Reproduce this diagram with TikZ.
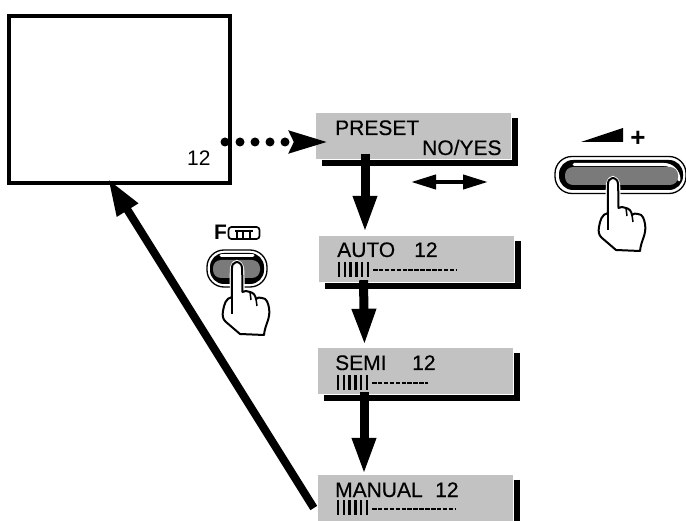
\documentclass[tikz,border=0pt]{standalone}
\usepackage{fontspec}
\setmainfont{Liberation Sans}
\usetikzlibrary{arrows.meta,calc}
\tikzset{
  panel/.style={fill=black!24,inner sep=0pt,minimum width=195pt,minimum height=46pt},
  paneltxt/.style={anchor=base west,inner sep=0pt,font=\fontsize{21}{24}\selectfont\addfontfeature{FakeBold=0.35}},
  edgeline/.style={line width=6pt,line join=miter},
  bigarrow/.style={line width=9pt,-{Triangle[length=37pt,width=22pt]}},
  btnout/.style={draw,line width=1.3pt,fill=white,rounded corners=17pt,inner sep=0pt},
  btnring/.style={fill=black,rounded corners=14pt,inner sep=0pt},
  btngray/.style={fill=black!52,rounded corners=8pt,inner sep=0pt},
  hand/.pic={
    \filldraw[fill=white,draw=white,line width=4pt] plot[smooth,tension=.5] coordinates {(-5,35) (-5,6) (0,0) (5,6) (5.5,30)} -- (20,60) -- cycle;
    \filldraw[fill=white,draw=black,line width=2pt,line join=round] plot[smooth,tension=.45] coordinates {(-5,35) (-5,6) (-3,1.5) (0,0) (3,1.5) (5,6) (5.5,30)}
      to[out=50,in=170] (13,30) to[out=-10,in=100] (19,37) to[out=60,in=170] (25,36) to[out=0,in=100] (32,46)
      to[out=-80,in=85] (27,73) -- (3,72) -- (-11,60) to[out=140,in=-100] (-14,49) to[out=80,in=190] (-5,35);
    \draw[line width=1.5pt] (-5,35) -- (-5,52);
    \draw[line width=1.5pt] (13,30) -- (14,38);
    \draw[line width=1.5pt] (19,37) -- (20,44);
  }
}
\begin{document}
\begin{tikzpicture}[x=1pt,y=-1pt]
\useasboundingbox (0,0) rectangle (686,521);
% monitor
\node[draw,line width=3.5pt,inner sep=0pt,minimum width=221pt,minimum height=167pt] (monitor) at (119.5,99.5) {};
\node[anchor=base west,inner sep=0pt,font=\fontsize{21}{24}\selectfont] (montxt) at (187,166) {12};
% menu panels
\node[panel] (preset) at (413.5,136.5) {};
\node[panel] (auto) at (416.5,259) {};
\node[panel] (semi) at (415.5,371) {};
\node[panel] (manual) at (415.5,498) {};
\node[paneltxt] (presettxt) at (335,135) {PRESET};
\node[paneltxt] (noyes) at (422,155) {NO/YES};
\node[paneltxt] (autotxt) at (337,257) {AUTO};
\node[paneltxt] (autonum) at (414,257) {12};
\node[paneltxt] (semitxt) at (335,370) {SEMI};
\node[paneltxt] (seminum) at (412,370) {12};
\node[paneltxt] (manualtxt) at (335,497) {MANUAL};
\node[paneltxt] (manualnum) at (435,497) {12};
% level bars
\foreach \barx/\bary/\barend in {338/269.5/457,337/382.5/428,337/507.5/456}{
  \foreach \k in {0,...,5}
    \draw[line width=2.4pt] (\barx+\k*5.8+1,\bary-7.5) -- (\barx+\k*5.8+1,\bary+7.5);
  \draw[line width=2pt,dash pattern=on 4.5pt off 1.4pt] (\barx+35,\bary+1) -- (\barend,\bary+1);
}
% panel edges
\foreach \p in {preset,auto,semi}
  \draw[edgeline] ([shift={(6,3.5)}]\p.south west) -| ([shift={(3.5,5)}]\p.north east);
\draw[edgeline] ([shift={(3.5,5)}]manual.north east) -- ([shift={(3.5,0)}]manual.south east);
% arrows between panels
\draw[bigarrow] ([shift={(-48.5,-6)}]preset.south) -- ([shift={(-51.5,-3)}]auto.north);
\draw[bigarrow] ([shift={(-53,-2)}]auto.south) -- ([shift={(-51,-2)}]semi.north);
\draw[bigarrow] ([shift={(-51.5,-2)}]semi.south) -- ([shift={(-51.5,0)}]manual.north);
\draw[line width=8pt,-{Triangle[length=37pt,width=23pt]}] ([shift={(-4,10)}]manual.west) -- ([shift={(-11.5,-6)}]monitor.south);
% dotted arrow
\coordinate (dotfrom) at (225,142);
\coordinate (dotto) at (328,142);
\draw[line width=9pt,line cap=round,dash pattern=on 0pt off 15pt,-{Stealth[length=38pt,width=21pt,inset=4pt]}] (dotfrom) -- (dotto);
% swap arrow
\coordinate (swapl) at (411,182);
\coordinate (swapr) at (488,182);
\draw[line width=4pt,{Triangle[length=25pt,width=14pt]}-{Triangle[length=25pt,width=14pt]}] (swapl) -- (swapr);
% plus button
\fill (581,142) -- (623,128) -- (623,142) -- cycle;
\node[inner sep=0pt,font=\fontsize{26}{26}\bfseries\selectfont] (plus) at (638,138.5) {+};
\node[btnout,minimum width=131pt,minimum height=37pt] (plusbtn) at (620.5,175) {};
\node[btnring,minimum width=124pt,minimum height=30pt] (plusring) at (621,175) {};
\draw[white,line width=3pt,line cap=round] (574,164.5) -- (664,164.5) to[out=0,in=90] (679,180);
\node[btngray,minimum width=113pt,minimum height=18pt] (plusgray) at (621.5,176) {};
\pic (handplus) at (613,178) {hand};
% F button
\node[inner sep=0pt,anchor=base west,font=\fontsize{21}{24}\bfseries\selectfont] (ftxt) at (214,240) {F};
\node[draw,line width=1.7pt,rounded corners=3pt,inner sep=0pt,minimum width=31pt,minimum height=12pt] (fbox) at (244,233) {};
\draw[line width=1.3pt] (235,231) -- (253,231);
\foreach \tx in {237,243,250}
  \draw[line width=1.3pt] (\tx,231) -- (\tx,238);
\node[btnout,minimum width=60pt,minimum height=37pt] (fbtn) at (237,268.5) {};
\node[btnring,minimum width=54pt,minimum height=31pt] (fring) at (237,268.5) {};
\draw[white,line width=3pt,line cap=round] (221,256) -- (253,256);
\node[btngray,minimum width=47pt,minimum height=18pt] (fgray) at (236.5,269) {};
\pic (handf) at (237,262) {hand};
\end{tikzpicture}
\end{document}
